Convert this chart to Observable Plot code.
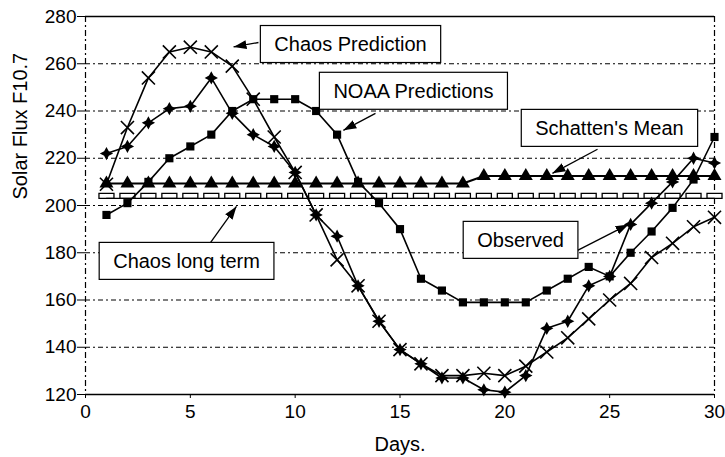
<!DOCTYPE html>
<html><head><meta charset="utf-8">
<script src="https://cdn.jsdelivr.net/npm/d3@7"></script>
<script src="https://cdn.jsdelivr.net/npm/@observablehq/plot@0.6"></script>
<style>
body{margin:0;background:#fff;}
#chart{width:725px;height:457px;overflow:hidden;}
</style></head><body><div id="chart"></div>
<script>
// ---- data ----
const days = [1,2,3,4,5,6,7,8,9,10,11,12,13,14,15,16,17,18,19,20,21,22,23,24,25,26,27,28,29,30];
const chaosPrediction = [209,233,254,265,267,265,259,245,229,214,196,177,166,151,139,133,128,128,129,128,132,138,144,152,160,167,178,184,191,195];
const observed = [222,225,235,241,242,254,239,230,225,214,196,187,166,151,139,133,127,127,122,121,128,148,151,166,170,192,201,210,220,218];
const noaaPredictions = [196,201,210,220,225,230,240,245,245,245,240,230,210,201,190,169,164,159,159,159,159,164,169,174,170,180,189,199,211,229];
const schattensMean = [209.3,209.3,209.3,209.3,209.3,209.3,209.3,209.3,209.3,209.3,209.3,209.3,209.3,209.3,209.3,209.3,209.3,209.3,212.5,212.5,212.5,212.5,212.5,212.5,212.5,212.5,212.5,212.5,212.5,212.5];
const chaosLongTerm = [203,203,203,203,203,203,203,203,203,203,203,203,203,203,203,203,203,203,203,203,203,203,203,203,203,203,203,203,203,203];
const xTicks = [0,5,10,15,20,25,30];
const yTicks = [120,140,160,180,200,220,240,260,280];

// annotation labels (data units)
const labelText = ["Chaos Prediction","NOAA Predictions","Schatten's Mean","Chaos long term","Observed"];
const labelDay = [12.64,15.64,24.99,4.82,20.75];
const labelValue = [268.1,248.3,232.6,176.3,185.2];
const arrowFromDay = [8.25,13.83,24.42,5.96,23.47];
const arrowFromValue = [269.0,239.0,223.8,184.3,181.0];
const arrowToDay = [7.06,12.30,22.27,7.20,25.90];
const arrowToValue = [267.1,231.8,213.6,199.6,192.0];

// ---- tables ----
const rows = (vals) => days.map((d,i) => ({day:d, v:vals[i]}));
const labels = labelText.map((t,i) => ({t, x:labelDay[i], y:labelValue[i],
  x1:arrowFromDay[i], y1:arrowFromValue[i], x2:arrowToDay[i], y2:arrowToValue[i]}));
const grid = yTicks.slice(1,-1);
const yEnds = [yTicks[0], yTicks[yTicks.length-1]];
const xEnds = [xTicks[0], xTicks[xTicks.length-1]];

// custom symbols
const star4 = {draw(ctx, size){ const r = Math.sqrt(size)*0.75, q = r*0.35;
  ctx.moveTo(0,-r); ctx.lineTo(q,-q); ctx.lineTo(r,0); ctx.lineTo(q,q);
  ctx.lineTo(0,r); ctx.lineTo(-q,q); ctx.lineTo(-r,0); ctx.lineTo(-q,-q); ctx.closePath(); }};
const wideRect = {draw(ctx){ ctx.moveTo(-7.5,-5); ctx.lineTo(7.5,-5); ctx.lineTo(7.5,0); ctx.lineTo(-7.5,0); ctx.closePath(); }};

const filledArrow = (color, context) => {
  const doc = (context && context.document) || document;
  const ns = "http://www.w3.org/2000/svg";
  const m = doc.createElementNS(ns, "marker");
  m.setAttribute("viewBox","0 -5 13 10");
  m.setAttribute("refX","13"); m.setAttribute("refY","0");
  m.setAttribute("markerUnits","userSpaceOnUse");
  m.setAttribute("markerWidth","13"); m.setAttribute("markerHeight","10");
  m.setAttribute("orient","auto");
  const p = doc.createElementNS(ns, "path");
  p.setAttribute("d","M0,-4.5L13,0L0,4.5Z");
  p.setAttribute("fill", color); p.setAttribute("stroke","none");
  m.appendChild(p);
  return m;
};

const font = "'Liberation Sans', Arial, Helvetica, sans-serif";

const chart = Plot.plot({
  width: 725, height: 457,
  marginLeft: 85, marginRight: 11, marginTop: 16, marginBottom: 63,
  style: {fontFamily: font, fontSize: "19px", background: "white", color: "black", overflow: "visible"},
  x: {domain: [0,30], ticks: xTicks, tickSize: 4, tickPadding: 6, label: null},
  y: {domain: [120,280], ticks: yTicks, tickSize: 8, tickPadding: 1, label: null},
  marks: [
    Plot.ruleY(grid, {stroke: "black", strokeWidth: 1, strokeDasharray: "5,3,2,3"}),
    Plot.ruleX(xEnds, {stroke: "black", strokeWidth: 1.2, strokeDasharray: "6,3,2,3"}),
    Plot.ruleY(yEnds, {stroke: "black", strokeWidth: 1.5}),
    // Chaos long term
    Plot.dot(rows(chaosLongTerm), {x: "day", y: "v", symbol: wideRect, fill: "white", stroke: "black", strokeWidth: 1.3}),
    Plot.line(rows(chaosLongTerm), {x: "day", y: "v", stroke: "black", strokeWidth: 1.3}),
    // Schatten's mean
    Plot.line(rows(schattensMean), {x: "day", y: "v", stroke: "black", strokeWidth: 2}),
    Plot.dot(rows(schattensMean), {x: "day", y: "v", symbol: "triangle", r: 5.2, fill: "black"}),
    // NOAA
    Plot.line(rows(noaaPredictions), {x: "day", y: "v", stroke: "black", strokeWidth: 1.6}),
    Plot.dot(rows(noaaPredictions), {x: "day", y: "v", symbol: "square", r: 4.6, fill: "black"}),
    // Observed
    Plot.line(rows(observed), {x: "day", y: "v", stroke: "black", strokeWidth: 1.6}),
    Plot.dot(rows(observed), {x: "day", y: "v", symbol: star4, r: 5, fill: "black"}),
    // Chaos prediction
    Plot.line(rows(chaosPrediction), {x: "day", y: "v", stroke: "black", strokeWidth: 1.6}),
    Plot.dot(rows(chaosPrediction), {x: "day", y: "v", symbol: "times", r: 6, stroke: "black", strokeWidth: 1.6}),
    // annotations
    Plot.link(labels, {x1: "x1", y1: "y1", x2: "x2", y2: "y2", stroke: "black", strokeWidth: 1.3, markerEnd: filledArrow}),
    Plot.text(labels, {x: "x", y: "y", text: "t", fontSize: 20, fill: "black"}),
    // axis titles
    Plot.text(["Days."], {frameAnchor: "bottom", dy: 56, fontSize: 20, fill: "black"}),
    Plot.text(["Solar Flux F10.7"], {frameAnchor: "left", dx: -65, dy: -6, rotate: -90, fontSize: 20, fill: "black"})
  ]
});
document.getElementById("chart").appendChild(chart);

// boxes behind annotation labels
const svg = chart.tagName.toLowerCase() === "svg" ? chart : chart.querySelector("svg");
svg.querySelectorAll("text").forEach(t => {
  if (!labelText.includes(t.textContent)) return;
  const b = t.getBBox();
  const r = document.createElementNS("http://www.w3.org/2000/svg", "rect");
  r.setAttribute("x", b.x - 14); r.setAttribute("y", b.y - 7.5);
  r.setAttribute("width", b.width + 28); r.setAttribute("height", b.height + 15);
  r.setAttribute("fill", "white"); r.setAttribute("stroke", "black"); r.setAttribute("stroke-width", "1.2");
  if (t.getAttribute("transform")) r.setAttribute("transform", t.getAttribute("transform"));
  t.parentNode.insertBefore(r, t);
});
</script></body></html>
